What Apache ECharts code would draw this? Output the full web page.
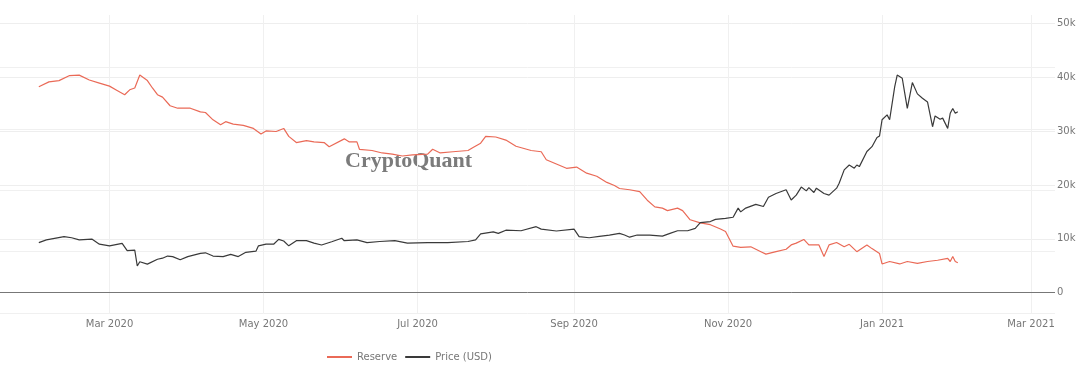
<!DOCTYPE html>
<html>
<head>
<meta charset="utf-8">
<script src="https://cdn.jsdelivr.net/npm/echarts@6/dist/echarts.min.js"></script>
<style>
html,body{margin:0;padding:0;background:#fff;}
#chart{width:1080px;height:370px;}
</style>
</head>
<body>
<div id="chart"></div>
<script>
// Price (USD), right axis
const priceDates = ['2020-02-02','2020-02-05','2020-02-12','2020-02-15','2020-02-18','2020-02-23','2020-02-26','2020-03-01','2020-03-06','2020-03-08','2020-03-11','2020-03-12','2020-03-13','2020-03-16','2020-03-20','2020-03-22','2020-03-24','2020-03-26','2020-03-29','2020-04-01','2020-04-06','2020-04-08','2020-04-11','2020-04-15','2020-04-18','2020-04-21','2020-04-24','2020-04-28','2020-04-29','2020-05-02','2020-05-05','2020-05-07','2020-05-09','2020-05-11','2020-05-14','2020-05-18','2020-05-21','2020-05-24','2020-05-28','2020-06-01','2020-06-02','2020-06-07','2020-06-11','2020-06-16','2020-06-22','2020-06-27','2020-07-05','2020-07-13','2020-07-21','2020-07-24','2020-07-26','2020-07-31','2020-08-02','2020-08-05','2020-08-11','2020-08-17','2020-08-19','2020-08-25','2020-09-01','2020-09-03','2020-09-07','2020-09-11','2020-09-15','2020-09-19','2020-09-21','2020-09-23','2020-09-26','2020-10-01','2020-10-06','2020-10-09','2020-10-12','2020-10-16','2020-10-19','2020-10-21','2020-10-25','2020-10-27','2020-10-31','2020-11-03','2020-11-05','2020-11-06','2020-11-08','2020-11-12','2020-11-15','2020-11-17','2020-11-20','2020-11-24','2020-11-26','2020-11-28','2020-11-30','2020-12-02','2020-12-03','2020-12-05','2020-12-06','2020-12-09','2020-12-11','2020-12-14','2020-12-15','2020-12-17','2020-12-19','2020-12-21','2020-12-22','2020-12-23','2020-12-26','2020-12-28','2020-12-30','2020-12-31','2021-01-01','2021-01-03','2021-01-04','2021-01-06','2021-01-07','2021-01-09','2021-01-10','2021-01-11','2021-01-13','2021-01-15','2021-01-17','2021-01-19','2021-01-21','2021-01-22','2021-01-24','2021-01-25','2021-01-27','2021-01-28','2021-01-29','2021-01-30','2021-01-31'];
const priceValues = [9300,9800,10400,10200,9800,9950,9000,8700,9150,7800,7900,4950,5750,5300,6200,6400,6800,6700,6100,6700,7300,7400,6800,6700,7100,6700,7500,7700,8700,9000,9000,9900,9600,8700,9650,9650,9200,8850,9450,10100,9650,9800,9300,9500,9650,9200,9300,9300,9500,9800,10900,11300,11000,11600,11500,12250,11800,11450,11800,10400,10200,10450,10700,11000,10700,10300,10700,10700,10500,11000,11500,11500,11950,13000,13200,13600,13800,14000,15700,15000,15700,16400,16000,17700,18400,19100,17200,18100,19600,18900,19500,18600,19400,18400,18100,19400,20300,22800,23700,23100,23700,23400,26200,27100,28800,29100,32100,33000,32100,38200,40400,39800,37000,34200,39000,36900,36100,35400,30800,32800,32200,32400,30500,33300,34200,33300,33600];

const reserveDates = ['2020-02-02','2020-02-06','2020-02-10','2020-02-14','2020-02-18','2020-02-22','2020-02-26','2020-03-01','2020-03-04','2020-03-07','2020-03-09','2020-03-11','2020-03-13','2020-03-16','2020-03-18','2020-03-20','2020-03-22','2020-03-25','2020-03-28','2020-04-02','2020-04-06','2020-04-08','2020-04-11','2020-04-14','2020-04-16','2020-04-19','2020-04-23','2020-04-27','2020-04-30','2020-05-02','2020-05-06','2020-05-09','2020-05-11','2020-05-14','2020-05-18','2020-05-21','2020-05-25','2020-05-27','2020-06-02','2020-06-04','2020-06-07','2020-06-08','2020-06-13','2020-06-17','2020-06-21','2020-06-25','2020-06-29','2020-07-05','2020-07-07','2020-07-10','2020-07-15','2020-07-21','2020-07-23','2020-07-26','2020-07-28','2020-08-01','2020-08-05','2020-08-09','2020-08-15','2020-08-19','2020-08-21','2020-08-25','2020-08-29','2020-09-02','2020-09-06','2020-09-10','2020-09-14','2020-09-17','2020-09-19','2020-09-23','2020-09-27','2020-09-30','2020-10-03','2020-10-06','2020-10-08','2020-10-12','2020-10-14','2020-10-17','2020-10-21','2020-10-25','2020-10-29','2020-10-31','2020-11-03','2020-11-06','2020-11-10','2020-11-14','2020-11-16','2020-11-20','2020-11-24','2020-11-26','2020-11-28','2020-12-01','2020-12-03','2020-12-07','2020-12-09','2020-12-11','2020-12-14','2020-12-17','2020-12-19','2020-12-22','2020-12-26','2020-12-28','2020-12-31','2021-01-01','2021-01-04','2021-01-08','2021-01-11','2021-01-15','2021-01-19','2021-01-23','2021-01-27','2021-01-28','2021-01-29','2021-01-30','2021-01-31'];
const reserveValues = [369,377,379,387,388,380,375,370,363,356,364,367,388,379,367,356,352,338,334,334,328,327,315,307,312,308,306,301,292,297,296,301,288,278,281,279,278,271,284,279,279,267,265,261,259,256,258,259,267,261,263,265,270,277,288,287,282,272,265,263,250,243,236,238,228,223,213,208,203,201,198,184,173,171,167,171,167,152,147,144,137,133,109,107,108,100,96,100,104,111,114,120,111,111,92,111,115,108,112,100,111,105,97,80,84,80,84,81,84,86,89,84,92,84,82];

const monthNames = ['Jan','Feb','Mar','Apr','May','Jun','Jul','Aug','Sep','Oct','Nov','Dec'];

const chart = echarts.init(document.getElementById('chart'), null, {renderer: 'canvas'});
const font = 'DejaVu Sans';
const option = {
  animation: false,
  backgroundColor: '#fff',
  grid: {left: 0, right: 25, top: 15, bottom: 57, containLabel: false, outerBoundsMode: 'none'},
  legend: {
    data: ['Reserve', 'Price (USD)'],
    left: 327, top: 352, padding: 0,
    icon: 'rect', itemWidth: 25, itemHeight: 2, itemGap: 8,
    textStyle: {fontFamily: font, fontSize: 10, color: '#777'}
  },
  graphic: [{
    type: 'text', left: 345, top: 150, z: 0, silent: true,
    style: {text: 'CryptoQuant', fontFamily: 'Liberation Serif', fontWeight: 'bold', fontSize: 22, fill: '#7b7b7b'}
  }],
  xAxis: {
    type: 'time',
    min: '2020-01-17 15:00',
    max: '2021-03-10 12:00',
    splitNumber: 6,
    axisLine: {show: false},
    axisTick: {show: false},
    axisLabel: {
      margin: 6,
      fontFamily: font, fontSize: 10, color: '#777',
      formatter: function (v) { const d = new Date(v); return monthNames[d.getMonth()] + ' ' + d.getFullYear(); }
    },
    splitLine: {show: true, showMinLine: false, showMaxLine: false, lineStyle: {color: '#f0f0f0', width: 1}}
  },
  yAxis: [{
    type: 'value',
    position: 'right',
    min: -3770, max: 51540, splitNumber: 5,
    axisLine: {show: false}, axisTick: {show: false},
    axisLabel: {
      margin: 2, fontFamily: font, fontSize: 10, color: '#777',
      showMinLabel: false, showMaxLabel: false,
      formatter: function (v) { return v === 0 ? '0' : (v / 1000) + 'k'; }
    },
    splitLine: {show: true, showMinLine: false, showMaxLine: false, lineStyle: {color: '#eeeeee', width: 1}}
  }, {
    type: 'value',
    position: 'left',
    min: 0, max: 486, splitNumber: 5,
    axisLine: {show: false}, axisTick: {show: false}, axisLabel: {show: false},
    splitLine: {show: true, showMaxLine: false, lineStyle: {color: '#f0f0f0', width: 1}}
  }],
  series: [{
    name: 'Reserve', type: 'line', yAxisIndex: 1,
    data: reserveDates.map((d, i) => [d, reserveValues[i]]),
    showSymbol: false, symbol: 'none',
    itemStyle: {color: '#ea6a57'},
    lineStyle: {color: '#ea6a57', width: 1.2}
  }, {
    name: 'Price (USD)', type: 'line', yAxisIndex: 0,
    data: priceDates.map((d, i) => [d, priceValues[i]]),
    showSymbol: false, symbol: 'none',
    itemStyle: {color: '#3a3a3a'},
    lineStyle: {color: '#3a3a3a', width: 1.2},
    markLine: {
      silent: true, symbol: ['none', 'none'], animation: false,
      label: {show: false},
      lineStyle: {color: '#777', type: 'solid', width: 1},
      data: [{yAxis: 0}]
    }
  }]
};
chart.setOption(option);
</script>
</body>
</html>
